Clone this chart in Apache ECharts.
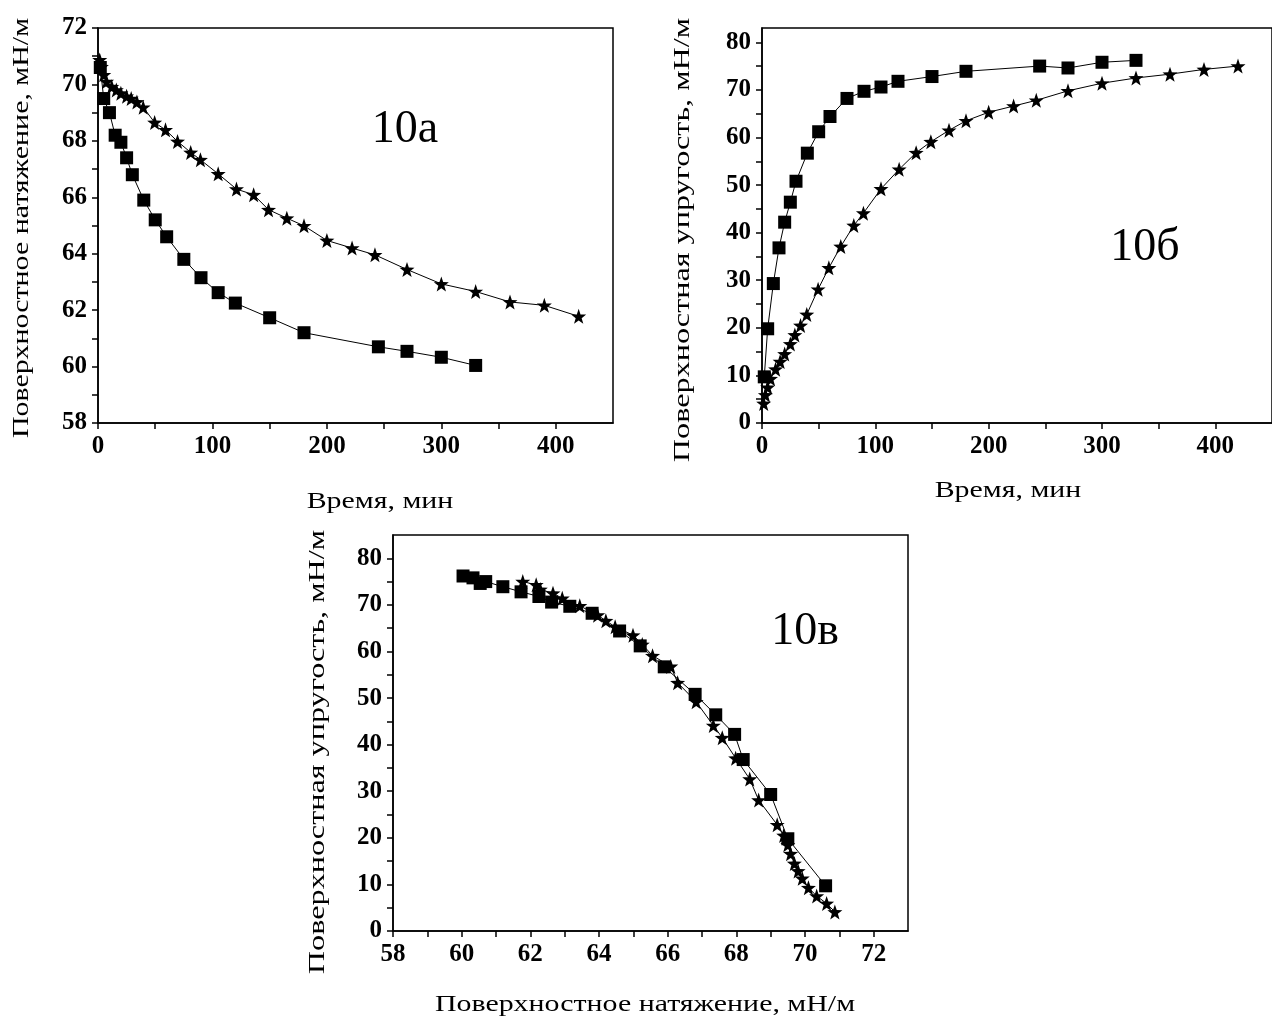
<!DOCTYPE html>
<html>
<head>
<meta charset="utf-8">
<script src="https://cdn.jsdelivr.net/npm/echarts@6/dist/echarts.min.js"></script>
<style>
  html, body { margin: 0; padding: 0; background: #fff; }
  #chart { width: 1272px; height: 1026px; }
</style>
</head>
<body>
<div id="chart"></div>
<script>
  /** Data: squares */
  var timeSq = [2, 5, 10, 15, 20, 25, 30, 40, 50, 60, 75, 90, 105, 120, 150, 180, 245, 270, 300, 330];
  var tensionSq = [70.6, 69.5, 69.0, 68.2, 67.95, 67.4, 66.8, 65.9, 65.2, 64.6, 63.8, 63.15, 62.62, 62.25, 61.73, 61.2, 60.7, 60.54, 60.33, 60.04];
  var elastSq = [9.7, 19.8, 29.3, 36.8, 42.2, 46.4, 50.8, 56.7, 61.2, 64.4, 68.2, 69.7, 70.6, 71.8, 72.8, 73.9, 75.0, 74.6, 75.8, 76.2];

  /** Data: stars */
  var timeSt = [1.5, 3, 5, 7.5, 12, 16, 20, 25, 29, 34, 39.5, 49.5, 59, 69.5, 81, 89.5, 105, 121, 136, 149, 165, 180, 200, 222, 242, 270, 300, 330, 360, 390, 420];
  var tensionSt = [70.87, 70.63, 70.34, 70.1, 69.92, 69.8, 69.69, 69.58, 69.5, 69.38, 69.19, 68.65, 68.39, 67.98, 67.59, 67.33, 66.83, 66.29, 66.09, 65.56, 65.26, 64.99, 64.47, 64.2, 63.96, 63.44, 62.93, 62.66, 62.29, 62.17, 61.78];
  var elastSt = [4.1, 5.9, 7.5, 9.3, 11.3, 12.9, 14.5, 16.6, 18.5, 20.5, 22.8, 28.1, 32.6, 37.1, 41.5, 44.1, 49.2, 53.3, 56.8, 59.1, 61.5, 63.5, 65.3, 66.6, 67.8, 69.8, 71.4, 72.5, 73.3, 74.3, 75.0];

  /** Tick labels */
  var timeTicks = [0, 100, 200, 300, 400];
  var tensionTicks = [58, 60, 62, 64, 66, 68, 70, 72];
  var elastTicks = [0, 10, 20, 30, 40, 50, 60, 70, 80];

  var starPath = 'path://M0,-10L2.35,-3.24L9.51,-3.09L3.8,1.24L5.88,8.09L0,4.2L-5.88,8.09L-3.8,1.24L-9.51,-3.09L-2.35,-3.24Z';
  var serif = '"Liberation Serif", "Times New Roman", serif';

  function zip(a, b) {
    return a.map(function(v, i) { return [v, b[i]]; });
  }

  // major ticks + minor ticks halfway, not on the border unless labelled
  function tickList(labels, minorStep, min, max) {
    var out = labels.slice();
    for (var v = min + minorStep; v < max - 1e-9; v += minorStep) {
      if (out.indexOf(v) < 0) out.push(v);
    }
    return out.sort(function(p, q) { return p - q; });
  }

  function axis(gridIndex, min, max, labels, minorStep) {
    return {
      type: 'value',
      gridIndex: gridIndex,
      min: min,
      max: max,
      splitLine: { show: false },
      axisLine: { onZero: false, lineStyle: { color: '#000', width: 1.5 } },
      axisTick: {
        inside: false,
        length: 6,
        customValues: tickList(labels, minorStep, min, max),
        lineStyle: { color: '#000', width: 1.5 }
      },
      axisLabel: {
        customValues: labels,
        color: '#000',
        fontFamily: serif,
        fontWeight: 'bold',
        fontSize: 25,
        margin: 11
      }
    };
  }

  function series(xi, data, symbol, size) {
    return {
      type: 'line',
      xAxisIndex: xi,
      yAxisIndex: xi,
      data: data,
      symbol: symbol,
      symbolSize: size,
      showAllSymbol: true,
      itemStyle: { color: '#000' },
      lineStyle: { color: '#000', width: 1 },
      animation: false
    };
  }

  function text(str, x, y, size, rot, sx) {
    return {
      type: 'text',
      x: x,
      y: y,
      rotation: rot || 0,
      scaleX: sx || 1,
      style: {
        text: str,
        font: size + 'px ' + serif,
        fill: '#000',
        align: 'center',
        verticalAlign: 'middle'
      }
    };
  }

  var gridStyle = { show: true, borderColor: '#000', borderWidth: 1.5, backgroundColor: 'transparent' };

  var option = {
    animation: false,
    backgroundColor: '#fff',
    grid: [
      Object.assign({ left: 98, top: 28, width: 515, height: 395 }, gridStyle),
      Object.assign({ left: 762, top: 28, width: 515, height: 395 }, gridStyle),
      Object.assign({ left: 393, top: 535, width: 515, height: 396 }, gridStyle)
    ],
    xAxis: [
      axis(0, 0, 450, timeTicks, 50),
      axis(1, 0, 450, timeTicks, 50),
      axis(2, 58, 73, tensionTicks, 1)
    ],
    yAxis: [
      axis(0, 58, 72, tensionTicks, 1),
      axis(1, 0, 83, elastTicks, 5),
      axis(2, 0, 85, elastTicks, 5)
    ],
    series: [
      series(0, zip(timeSq, tensionSq), 'rect', 13),
      series(0, zip(timeSt, tensionSt), starPath, 15),
      series(1, zip(timeSq, elastSq), 'rect', 13),
      series(1, zip(timeSt, elastSt), starPath, 15),
      series(2, zip(tensionSq, elastSq), 'rect', 13),
      series(2, zip(tensionSt, elastSt), starPath, 15)
    ],
    graphic: [
      text('10а', 405, 130, 46),
      text('10б', 1145, 248, 46),
      text('10в', 805, 632, 46),
      text('Время, мин', 380, 502, 23, 0, 1.3),
      text('Время, мин', 1008, 491, 23, 0, 1.3),
      text('Поверхностное натяжение, мН/м', 645, 1005, 23, 0, 1.3),
      text('Поверхностное натяжение, мН/м', 22, 228, 23, Math.PI / 2, 1.3),
      text('Поверхностная упругость, мН/м', 683, 240, 23, Math.PI / 2, 1.4),
      text('Поверхностная упругость, мН/м', 318, 752, 23, Math.PI / 2, 1.4)
    ]
  };

  echarts.init(document.getElementById('chart')).setOption(option);
</script>
</body>
</html>
